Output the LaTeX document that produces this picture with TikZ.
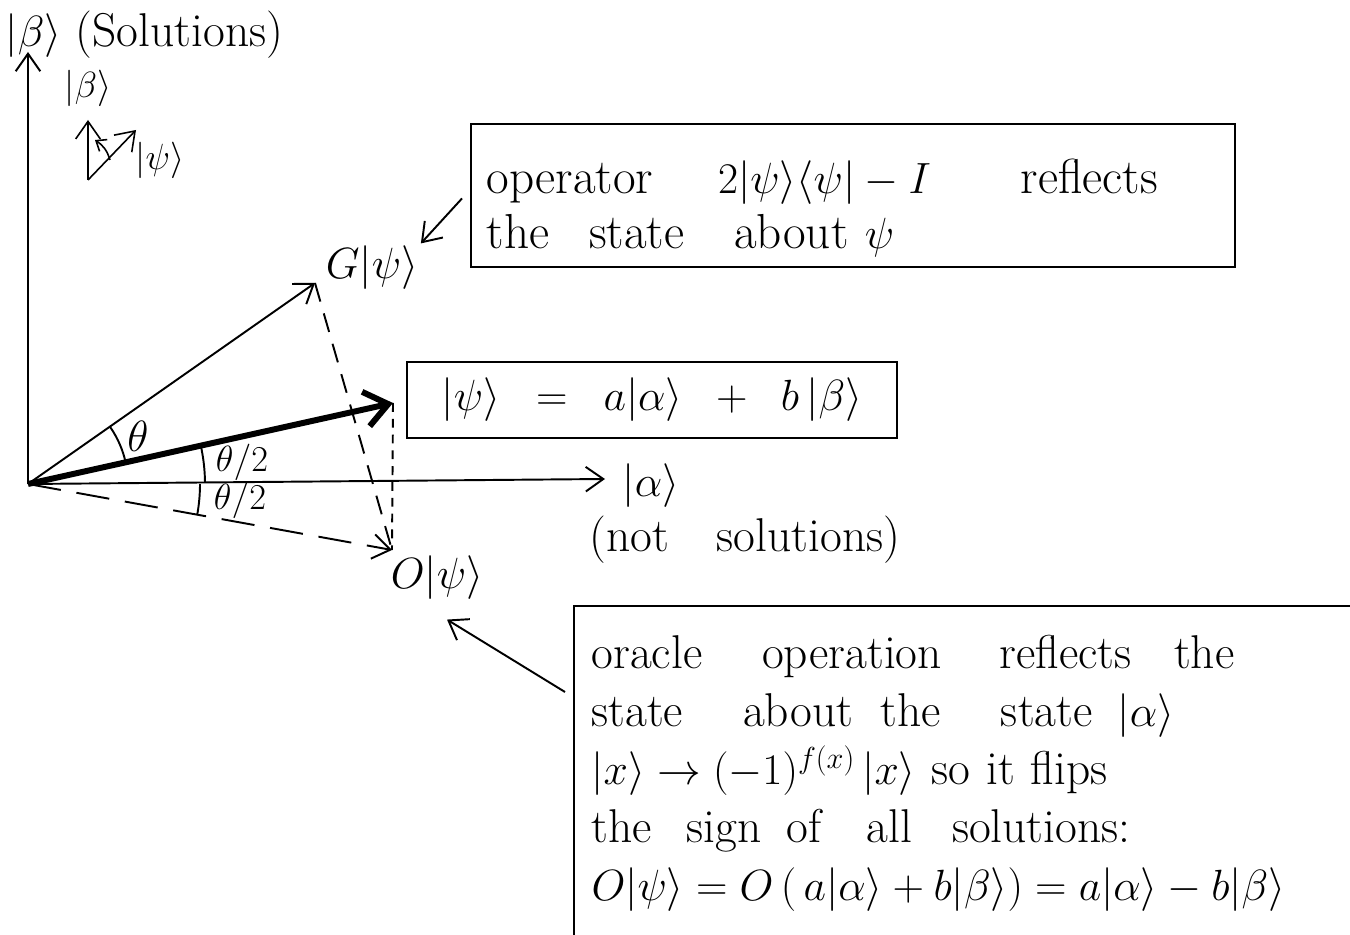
\documentclass[tikz,border=0pt]{standalone}
\usepackage{amsmath,amssymb}
\usepackage{tikz}
\usetikzlibrary{positioning, arrows.meta, calc}

\newcommand{\ket}[1]{|#1\rangle}
\newcommand{\bra}[1]{\langle #1|}

\begin{document}
\begin{tikzpicture}[
    x=0.02cm, y=-0.02cm,   % pixel grid, y pointing down
    line width=1.1pt,
    vec/.style={-{Straight Barb[length=10pt, width=14pt]}},
    bigvec/.style={-{Straight Barb[length=13pt, width=20pt]}, line width=3.4pt},
    refl/.style={dash pattern=on 11pt off 7pt},
    proj/.style={dash pattern=on 5pt off 4pt},
    lbl/.style={font=\fontsize{25}{30}\selectfont, inner sep=1pt},
    small/.style={font=\fontsize{20}{24}\selectfont, inner sep=1pt},
    note/.style={draw, align=left, anchor=north west, inner xsep=9pt, inner ysep=10pt,
                 font=\fontsize{28}{31}\selectfont},
]
\useasboundingbox (0,0) rectangle (1350,935);

% vectors
\coordinate (orig) at (28,484);
\coordinate (btip) at (28,52);
\coordinate (atip) at (605,479);
\coordinate (gtip) at (315,283);
\coordinate (ptip) at (393,403);
\coordinate (otip) at (392,550);

\draw[vec] (orig) -- (btip);
\draw[vec] (orig) -- (atip);
\draw[vec] (orig) -- (gtip);
\draw[vec, dash pattern=on 19pt off 9pt] (orig) -- (otip);
\draw[bigvec] (orig) -- (ptip);
\draw[refl] (gtip) -- (otip);
\draw[proj] (ptip) -- (otip);

% angles
\draw (orig) ++(-34.7:100) arc[start angle=-34.7, end angle=-12.5, radius=100];
\draw (orig) ++(-12.5:177) arc[start angle=-12.5, end angle=-0.5, radius=177];
\draw (orig) ++(0:172) arc[start angle=0, end angle=10.3, radius=172];
\node[lbl] (th) at (138,436) {$\theta$};
\node[small] (th1) at (242,462) {$\theta/2$};
\node[small] (th2) at (240,500) {$\theta/2$};

% axis labels
\node[lbl, anchor=west, font=\fontsize{27}{30}\selectfont] (blbl) at (3,35) {$\ket{\beta}$ (Solutions)};
\node[lbl, anchor=west] (albl) at (620,486) {$\ket{\alpha}$};
\node[lbl, font=\fontsize{27}{30}\selectfont] (notsol) at (745,540) {(not\quad solutions)};
\node[lbl] (glbl) at (372,268) {$G\ket{\psi}$};
\node[lbl] (olbl) at (437,578) {$O\ket{\psi}$};

% inset
\coordinate (ibase) at (88,180);
\coordinate (ibtip) at (88,120);
\coordinate (iptip) at (136,130);
\draw[vec, line width=0.9pt] (ibase) -- (ibtip);
\draw[vec, line width=0.9pt] (ibase) -- (iptip);
\draw[-{Straight Barb[length=5pt, width=8pt]}, line width=0.9pt] (110,160) to[bend right=20] (95,140);
\node[small] (ib) at (88,88) {$\ket{\beta}$};
\node[small] (ip) at (160,160) {$\ket{\psi}$};

% notes
\node[draw, lbl, font=\fontsize{27}{30}\selectfont, minimum width=9.82cm, minimum height=1.52cm] (psibox) at (652,400)
    {$\ket{\psi}\enspace=\enspace a\ket{\alpha}\enspace+\enspace b\,\ket{\beta}$\hspace{0.4cm}};

\node[note, text width=14.66cm, minimum height=2.86cm, inner ysep=4pt] (topnote) at (470,123)
    {\rule{0pt}{1.2cm}operator\hspace{1.3cm}$2\ket{\psi}\bra{\psi}-I$\hspace{1.8cm}reflects\\
     the\hspace{0.8cm}state\hspace{1cm}about $\psi$};
\draw[vec] ($(topnote.west)+(-8,3)$) -- (glbl.north east);

\node[note, text width=15.8cm, minimum height=6.7cm, inner xsep=10pt,
      font=\fontsize{27}{33}\selectfont] (botnote) at (573,605)
    {oracle\hspace{1.2cm}operation\hspace{1.15cm}reflects\hspace{0.85cm}the\\
     state\hspace{1.2cm}about\hspace{0.55cm}the\hspace{1.2cm}state\hspace{0.5cm}$\ket{\alpha}$\\
     $\ket{x}\to(-1)^{f(x)}\,\ket{x}$ so it flips\\
     the\hspace{0.7cm}sign\hspace{0.5cm}of\hspace{0.9cm}all\hspace{0.8cm}solutions:\\
     $O\ket{\psi}=O\,(\,a\ket{\alpha}+b\ket{\beta})=a\ket{\alpha}-b\ket{\beta}$};
\draw[vec] ($(botnote.north west)+(-8,87)$) -- ($(olbl.south)+(10,17)$);

\end{tikzpicture}
\end{document}
